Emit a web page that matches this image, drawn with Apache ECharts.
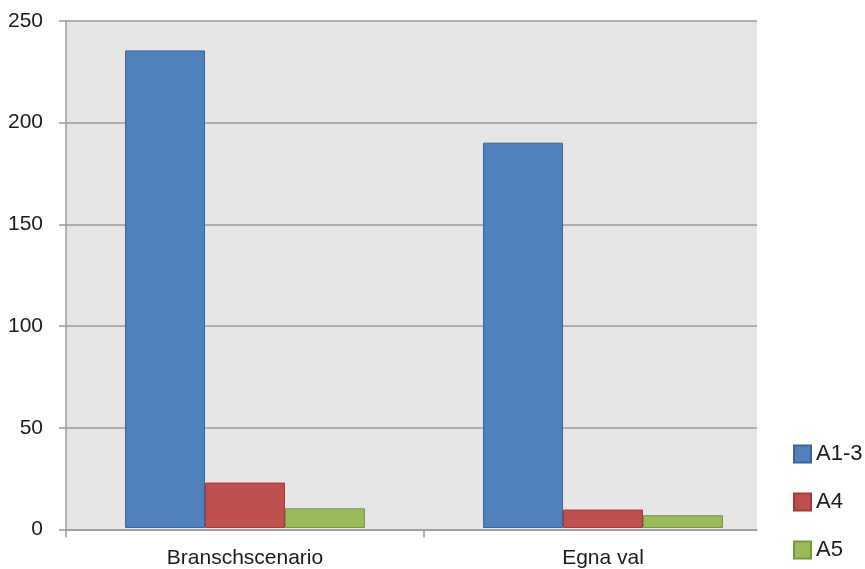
<!DOCTYPE html>
<html>
<head>
<meta charset="utf-8">
<script src="https://cdn.jsdelivr.net/npm/echarts@6/dist/echarts.min.js"></script>
<style>
html,body{margin:0;padding:0;background:#fff;}
#chart{width:865px;height:569px;}
</style>
</head>
<body>
<div id="chart"></div>
<script>
var categories = ['Branschscenario', 'Egna val'];
var seriesNames = ['A1-3', 'A4', 'A5'];
var valuesA13 = [235.5, 190];
var valuesA4 = [22.4, 9.1];
var valuesA5 = [9.7, 6.3];
var yTicks = [0, 50, 100, 150, 200, 250];

var FONT = 'Liberation Sans';
var colors = ['#4F81BD', '#C0504D', '#9BBB59'];
var borders = ['#3B6494', '#9B3D3A', '#789543'];
var seriesData = [valuesA13, valuesA4, valuesA5];

var chart = echarts.init(document.getElementById('chart'), null, {renderer: 'canvas'});
var option = {
  animation: false,
  backgroundColor: '#ffffff',
  grid: [
    {left: 66, top: 21, width: 691, height: 508.5, show: true, backgroundColor: '#E6E6E6', borderWidth: 0},
    {left: 66, top: 21, width: 716, height: 508.5, show: false}
  ],
  legend: {
    orient: 'vertical',
    left: 793,
    top: 443,
    padding: 0,
    itemWidth: 17,
    itemHeight: 17,
    itemGap: 26,
    icon: 'rect',
    data: seriesNames,
    textStyle: {fontFamily: FONT, fontSize: 22, color: '#1a1a1a'}
  },
  xAxis: [
    {
      gridIndex: 0, type: 'value', min: 0, max: 691 / 358,
      axisLine: {show: true, onZero: false, lineStyle: {color: '#9a9a9a', width: 1.5}},
      axisTick: {show: true, length: 8, customValues: [0, 1], lineStyle: {color: '#9a9a9a', width: 1.5}},
      axisLabel: {show: false},
      splitLine: {show: false}
    },
    {
      gridIndex: 1, type: 'category', data: categories,
      axisLine: {show: false},
      axisTick: {show: false},
      axisLabel: {show: true, margin: 20, fontFamily: FONT, fontSize: 21, color: '#1a1a1a'},
      splitLine: {show: false}
    }
  ],
  yAxis: [
    {
      gridIndex: 0, type: 'value', min: yTicks[0], max: yTicks[yTicks.length - 1], interval: 50,
      axisLine: {show: true, lineStyle: {color: '#9a9a9a', width: 1.5}},
      axisTick: {show: true, length: 7, lineStyle: {color: '#9a9a9a', width: 1.5}},
      axisLabel: {margin: 23, fontFamily: FONT, fontSize: 21, color: '#1a1a1a'},
      splitLine: {show: true, lineStyle: {color: '#9a9a9a', width: 1.5}}
    },
    {
      gridIndex: 1, type: 'value', min: yTicks[0], max: yTicks[yTicks.length - 1], interval: 50,
      show: false, splitLine: {show: false}
    }
  ],
  series: seriesNames.map(function (name, i) {
    return {
      name: name,
      type: 'bar',
      xAxisIndex: 1,
      yAxisIndex: 1,
      data: seriesData[i],
      barGap: '0%',
      barCategoryGap: '33%',
      itemStyle: {color: colors[i], borderColor: borders[i], borderWidth: 1}
    };
  })
};
chart.setOption(option);
</script>
</body>
</html>
